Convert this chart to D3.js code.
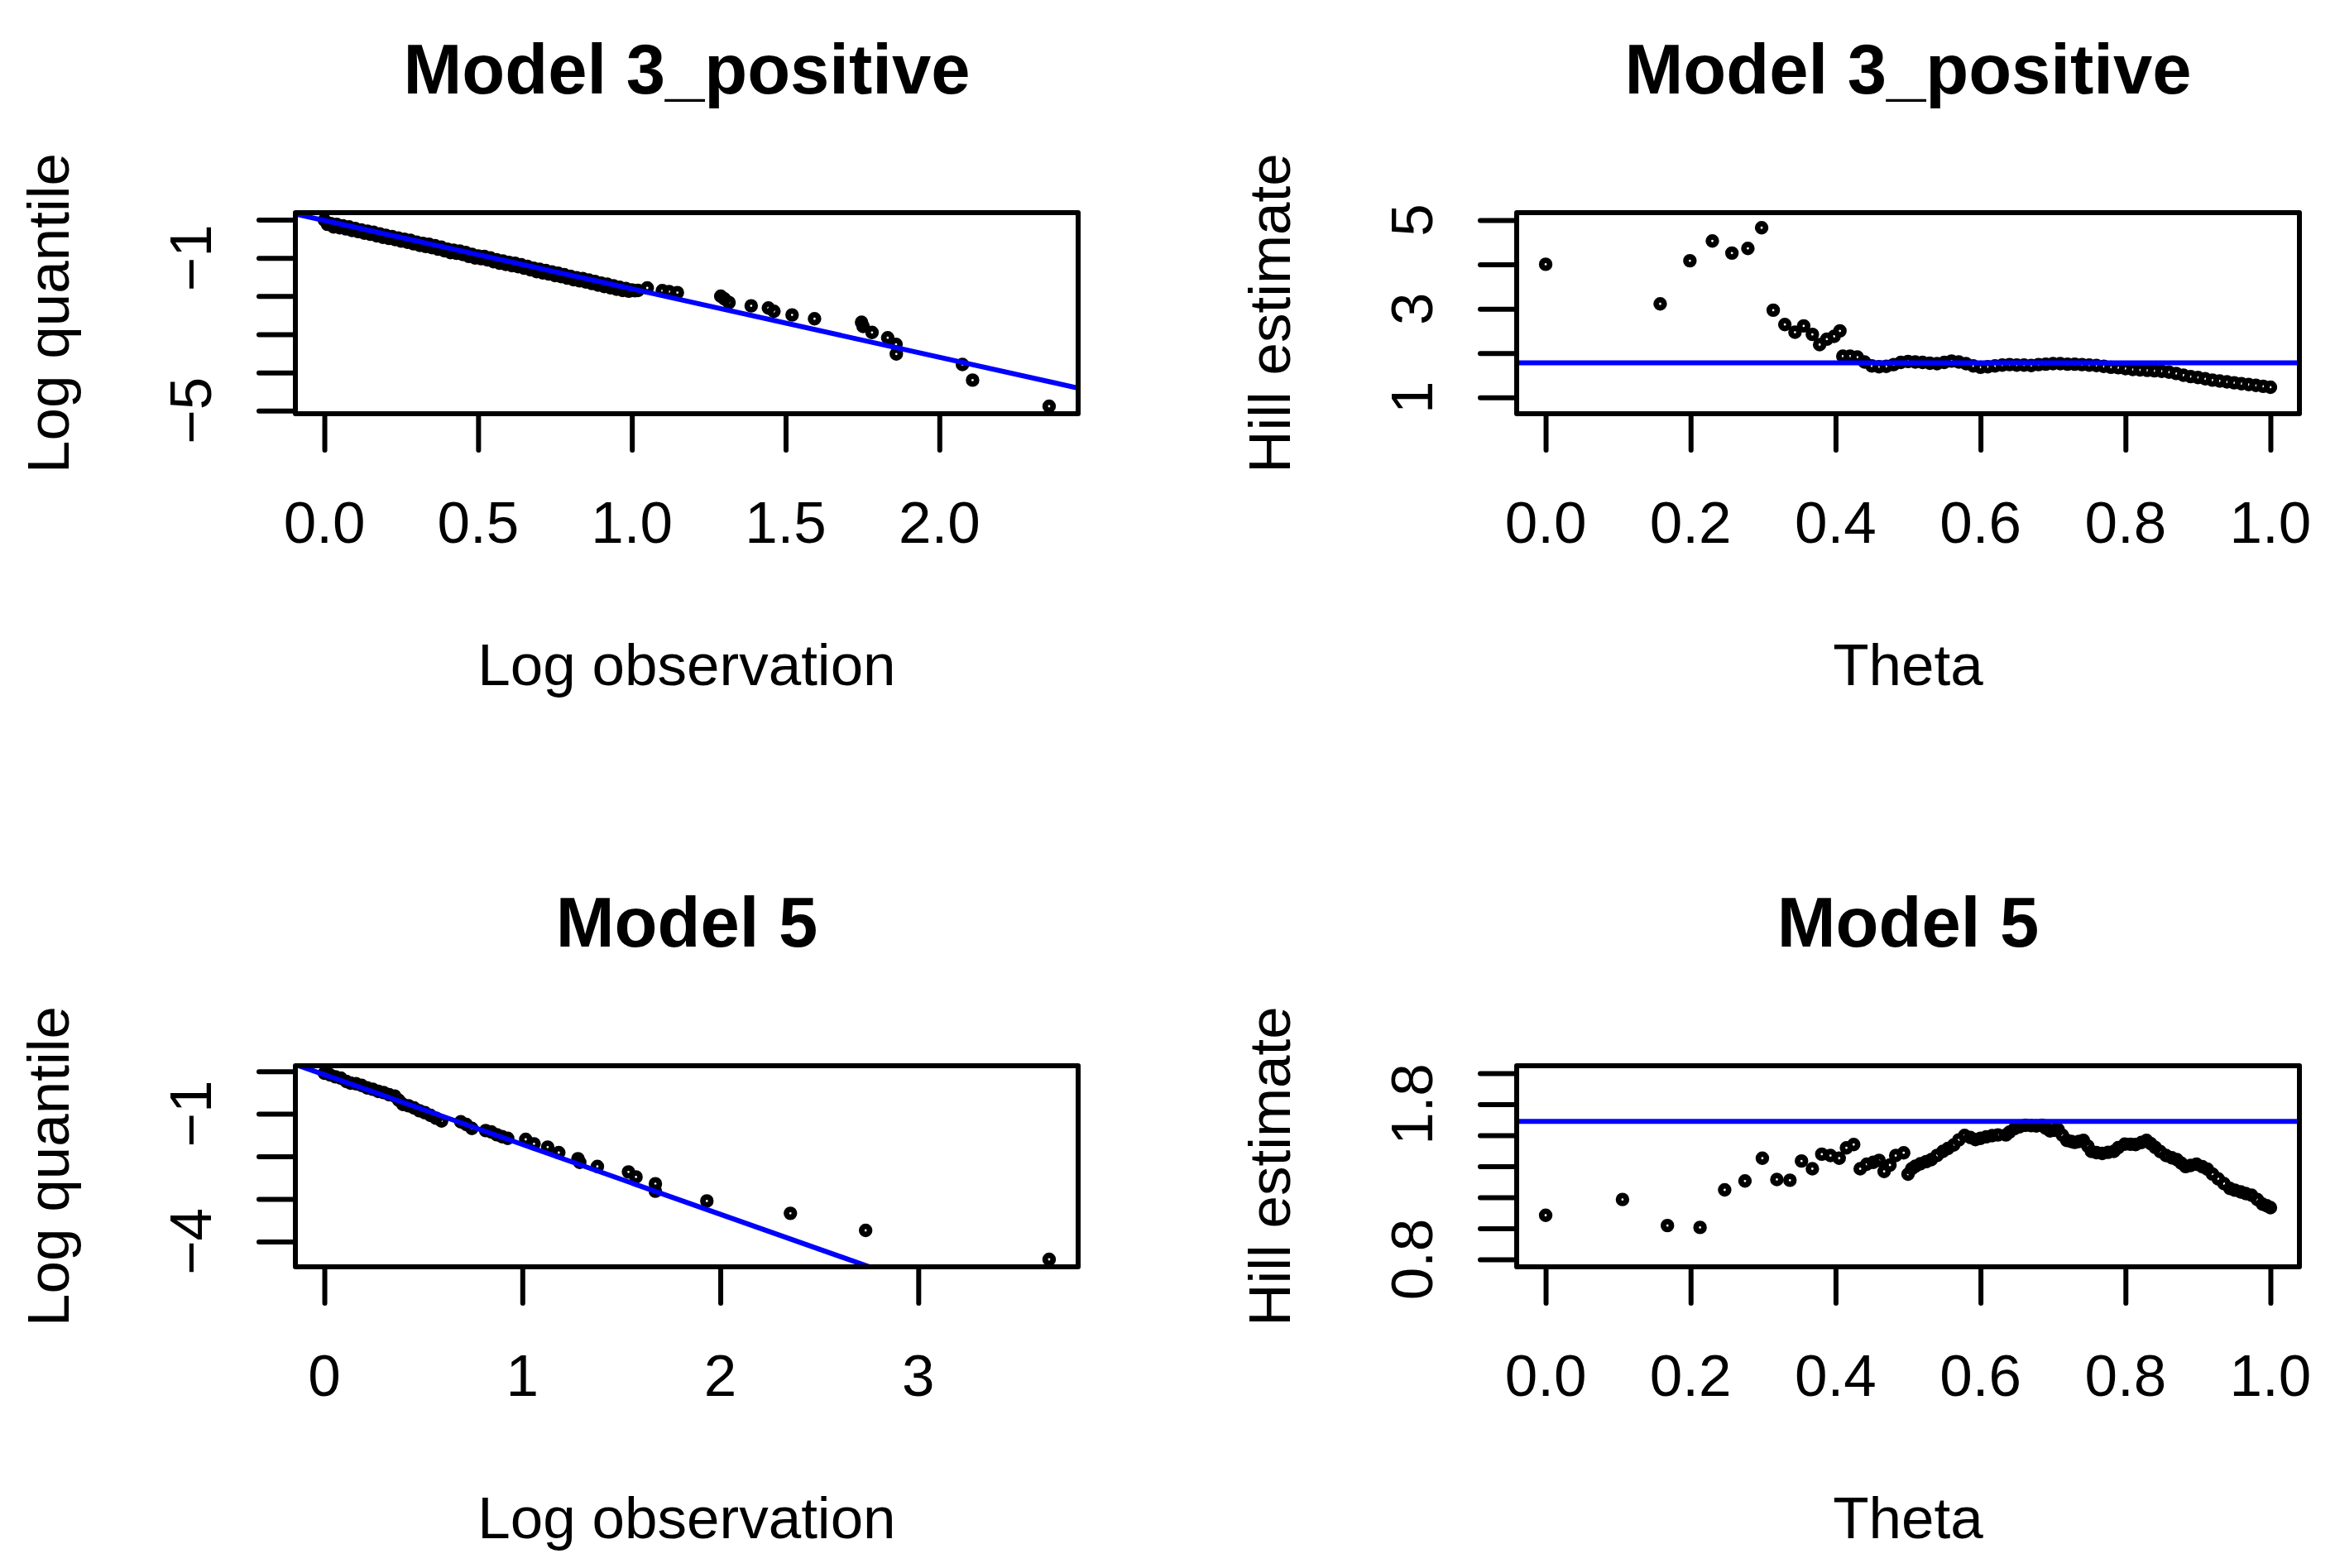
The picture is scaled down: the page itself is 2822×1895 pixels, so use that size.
<!DOCTYPE html>
<html>
<head>
<meta charset="utf-8">
<script src="https://cdn.jsdelivr.net/npm/d3@7/dist/d3.min.js"></script>
<style>
  html, body { margin: 0; padding: 0; background: #ffffff; }
  svg { display: block; }
  text { font-family: "Liberation Sans", Arial, Helvetica, sans-serif; fill: #000; }
</style>
</head>
<body>
<svg id="chart" width="2822" height="1895"></svg>
<script>
// ---------------- DATA ----------------
const panelTitles = ["Model 3_positive", "Model 3_positive", "Model 5", "Model 5"];
const qqXLabel = "Log observation", qqYLabel = "Log quantile";
const hillXLabel = "Theta", hillYLabel = "Hill estimate";

// Model 3_positive : QQ plot (log observation vs log quantile)
const qq3X = [0.00,0.01,0.02,0.03,0.04,0.05,0.06,0.07,0.08,0.09,0.10,0.11,0.12,0.13,0.14,0.15,0.16,0.17,0.18,0.19,
  0.20,0.21,0.22,0.23,0.24,0.25,0.26,0.27,0.28,0.29,0.30,0.31,0.32,0.33,0.34,0.35,0.36,0.37,0.38,0.39,
  0.40,0.41,0.42,0.43,0.44,0.45,0.46,0.47,0.48,0.49,0.50,0.51,0.52,0.53,0.54,0.55,0.56,0.57,0.58,0.59,
  0.60,0.61,0.62,0.63,0.64,0.65,0.66,0.67,0.68,0.69,0.70,0.71,0.72,0.73,0.74,0.75,0.76,0.77,0.78,0.79,
  0.80,0.81,0.82,0.83,0.84,0.85,0.86,0.87,0.88,0.89,0.90,0.91,0.92,0.93,0.94,0.95,0.96,0.97,0.98,0.99,
  1.00,1.01,1.02,
  1.050,1.099,1.121,1.148,1.289,1.301,1.316,1.388,1.444,1.462,1.521,1.594,1.747,1.752,1.781,1.832,1.859,1.860,2.075,2.108,2.357];
const qq3Y = [-0.01,-0.12,-0.10,-0.19,-0.12,-0.21,-0.16,-0.24,-0.19,-0.28,-0.23,-0.31,-0.27,-0.35,-0.30,-0.38,-0.33,-0.42,-0.37,-0.46,
  -0.41,-0.49,-0.44,-0.52,-0.48,-0.56,-0.51,-0.59,-0.54,-0.63,-0.59,-0.67,-0.62,-0.70,-0.64,-0.73,-0.68,-0.77,-0.72,-0.81,
  -0.77,-0.86,-0.80,-0.88,-0.82,-0.91,-0.86,-0.96,-0.91,-1.00,-0.95,-1.02,-0.96,-1.05,-1.00,-1.10,-1.05,-1.14,-1.08,-1.17,
  -1.12,-1.20,-1.14,-1.23,-1.18,-1.27,-1.22,-1.31,-1.27,-1.36,-1.30,-1.39,-1.33,-1.42,-1.37,-1.46,-1.40,-1.49,-1.44,-1.53,
  -1.48,-1.57,-1.52,-1.60,-1.54,-1.63,-1.58,-1.67,-1.62,-1.71,-1.66,-1.75,-1.69,-1.78,-1.73,-1.82,-1.77,-1.85,-1.80,-1.87,
  -1.84,-1.86,-1.85,
  -1.786,-1.858,-1.880,-1.908,-2.002,-2.074,-2.168,-2.254,-2.312,-2.398,-2.492,-2.593,-2.686,-2.794,-2.952,-3.090,-3.263,-3.515,-3.789,-4.199,-4.884];
const qq3Line = [-0.02, -1.79];          // intercept, slope
const qq3XTicks = [0, 0.5, 1, 1.5, 2];
const qq3XTickText = ["0.0", "0.5", "1.0", "1.5", "2.0"];
const qq3YTicks = [0, -1, -2, -3, -4, -5];
const qq3YLabelAt = [-1, -5];
const qq3YLabelText = ["\u22121", "\u22125"];

// Model 3_positive : Hill plot
const hill3Theta = [0.000,0.158,0.199,0.230,0.257,0.279,0.298,0.314,0.330,0.344,0.356,0.368,0.378,0.388,0.398,0.406,
  0.41,0.42,0.43,0.44,0.45,0.46,0.47,0.48,0.49,0.50,0.51,0.52,0.53,0.54,0.55,0.56,0.57,0.58,0.59,
  0.60,0.61,0.62,0.63,0.64,0.65,0.66,0.67,0.68,0.69,0.70,0.71,0.72,0.73,0.74,0.75,0.76,0.77,0.78,0.79,
  0.80,0.81,0.82,0.83,0.84,0.85,0.86,0.87,0.88,0.89,0.90,0.91,0.92,0.93,0.94,0.95,0.96,0.97,0.98,0.99,1.00];
const hill3Value = [4.003,3.110,4.083,4.529,4.256,4.362,4.827,2.967,2.644,2.470,2.613,2.421,2.191,2.315,2.377,2.501,
  1.93,1.93,1.91,1.80,1.71,1.69,1.70,1.74,1.79,1.81,1.80,1.79,1.77,1.76,1.79,1.82,1.80,1.76,1.71,
  1.68,1.69,1.71,1.73,1.74,1.73,1.73,1.72,1.74,1.75,1.76,1.76,1.75,1.75,1.74,1.73,1.72,1.70,1.68,1.67,
  1.65,1.63,1.62,1.61,1.60,1.59,1.57,1.54,1.50,1.47,1.45,1.42,1.39,1.37,1.35,1.33,1.31,1.29,1.27,1.25,1.23];
const hill3Level = 1.78;
const hill3YLim = [0.8, 5];
const thetaTicks = [0, 0.2, 0.4, 0.6, 0.8, 1.0];
const thetaTickText = ["0.0", "0.2", "0.4", "0.6", "0.8", "1.0"];
const hill3YTicks = [1, 2, 3, 4, 5];
const hill3YLabelAt = [1, 3, 5];
const hill3YLabelText = ["1", "3", "5"];

// Model 5 : QQ plot
const qq5X = [0.000,0.028,0.056,0.083,0.111,0.132,0.160,0.188,0.216,0.244,0.272,0.299,0.327,0.355,0.376,0.397,
  0.425,0.453,0.480,0.508,0.536,0.564,0.592,0.689,0.717,0.745,0.815,0.843,0.871,0.898,0.926,
  1.017,1.059,1.128,1.184,1.281,1.290,1.379,1.536,1.574,1.672,1.672,1.932,2.354,2.734,3.661];
const qq5Y = [-0.045,-0.084,-0.130,-0.162,-0.240,-0.279,-0.292,-0.331,-0.389,-0.421,-0.473,-0.499,-0.551,-0.583,-0.681,-0.778,
  -0.810,-0.862,-0.927,-0.972,-1.037,-1.102,-1.167,-1.186,-1.251,-1.342,-1.394,-1.426,-1.491,-1.536,-1.575,
  -1.601,-1.705,-1.782,-1.912,-2.055,-2.139,-2.236,-2.366,-2.483,-2.644,-2.819,-3.047,-3.338,-3.739,-4.420];
const qq5Line = [-0.08, -1.64];
const qq5XTicks = [0, 1, 2, 3];
const qq5XTickText = ["0", "1", "2", "3"];
const qq5YTicks = [0, -1, -2, -3, -4];
const qq5YLabelAt = [-1, -4];
const qq5YLabelText = ["\u22121", "\u22124"];

// Model 5 : Hill plot
const hill5Theta = [0.000,0.106,0.168,0.213,0.247,0.275,0.299,0.319,0.337,0.353,0.368,0.381,0.393,0.405,0.415,0.425,
  0.434,0.443,0.452,0.460,0.467,0.475,0.483,0.494,0.500,
  0.505,0.510,0.517,0.525,0.532,0.540,0.548,0.555,0.563,0.570,0.578,0.586,0.593,0.600,0.608,0.616,0.624,0.635,
  0.640,0.647,0.654,0.662,0.670,0.677,0.685,0.690,0.696,0.702,0.707,0.713,0.719,0.725,0.730,0.736,0.742,0.748,
  0.753,0.760,0.768,0.776,0.784,0.790,0.799,0.807,0.814,0.822,0.829,0.835,0.841,0.848,0.856,0.864,0.871,0.877,
  0.883,0.890,0.898,0.906,0.913,0.920,0.928,0.936,0.944,0.951,0.959,0.966,0.974,0.982,0.989,0.995,1.000];
const hill5Value = [1.084,1.186,1.018,1.006,1.248,1.305,1.452,1.315,1.310,1.434,1.384,1.478,1.469,1.452,1.519,1.540,
  1.384,1.413,1.425,1.438,1.367,1.408,1.469,1.487,1.349,
  1.384,1.400,1.416,1.430,1.443,1.470,1.496,1.515,1.537,1.570,1.599,1.585,1.572,1.580,1.590,1.597,1.602,1.602,
  1.620,1.643,1.655,1.664,1.662,1.660,1.664,1.645,1.628,1.632,1.637,1.600,1.567,1.560,1.554,1.560,1.567,1.530,
  1.496,1.488,1.483,1.490,1.496,1.520,1.543,1.542,1.540,1.553,1.567,1.545,1.522,1.495,1.469,1.455,1.443,1.420,
  1.398,1.405,1.413,1.397,1.381,1.350,1.319,1.288,1.257,1.246,1.235,1.224,1.213,1.185,1.156,1.145,1.133];
const hill5Level = 1.69;
const hill5YLim = [0.8, 2.0];
const hill5YTicks = [0.8, 1.0, 1.2, 1.4, 1.6, 1.8, 2.0];
const hill5YLabelAt = [0.8, 1.8];
const hill5YLabelText = ["0.8", "1.8"];

// ---------------- LAYOUT ----------------
const colLeft = [357, 1833], plotW = 946;
const rowTop = [257, 1288], plotH = 243;
const LW = 6;

const svg = d3.select("#chart");

function padded(ext) {
  const r = ext[1] - ext[0];
  return [ext[0] - 0.04 * r, ext[1] + 0.04 * r];
}

function drawPanel(idx, cfg) {
  const left = colLeft[idx % 2], top = rowTop[Math.floor(idx / 2)];
  const right = left + plotW, bottom = top + plotH;
  const x = d3.scaleLinear().domain(cfg.xDomain).range([left, right]);
  const y = d3.scaleLinear().domain(cfg.yDomain).range([bottom, top]);
  const g = svg.append("g");

  const clipId = "clip" + idx;
  svg.append("clipPath").attr("id", clipId)
    .append("rect").attr("x", left).attr("y", top).attr("width", plotW).attr("height", plotH);

  // points (pch = 1)
  g.append("g").selectAll("circle").data(d3.range(cfg.xs.length)).join("circle")
    .attr("cx", i => x(cfg.xs[i])).attr("cy", i => y(cfg.ys[i]))
    .attr("r", 4.8).attr("fill", "none").attr("stroke", "#000").attr("stroke-width", 6.8);

  // reference line (abline)
  const xd = x.domain();
  const linePts = cfg.line.h !== undefined
    ? [[xd[0], cfg.line.h], [xd[1], cfg.line.h]]
    : [[xd[0], cfg.line.a + cfg.line.b * xd[0]], [xd[1], cfg.line.a + cfg.line.b * xd[1]]];
  g.append("path").datum(linePts)
    .attr("clip-path", `url(#${clipId})`)
    .attr("d", d3.line().x(d => x(d[0])).y(d => y(d[1])))
    .attr("fill", "none").attr("stroke", "#0000FF").attr("stroke-width", LW);

  // box
  g.append("rect").attr("x", left).attr("y", top).attr("width", plotW).attr("height", plotH)
    .attr("fill", "none").attr("stroke", "#000").attr("stroke-width", LW).attr("stroke-linejoin", "round");

  // axes ticks
  const ax = g.append("g").attr("transform", `translate(0,${bottom})`)
    .call(d3.axisBottom(x).tickValues(cfg.xTicks).tickSize(44).tickSizeOuter(0).tickFormat(""));
  const ay = g.append("g").attr("transform", `translate(${left},0)`)
    .call(d3.axisLeft(y).tickValues(cfg.yTicks).tickSize(44).tickSizeOuter(0).tickFormat(""));
  [ax, ay].forEach(a => {
    a.select(".domain").remove();
    a.selectAll(".tick line").attr("stroke", "#000").attr("stroke-width", LW).attr("stroke-linecap", "round");
    a.selectAll(".tick text").remove();
  });

  // x tick labels
  g.append("g").selectAll("text").data(cfg.xTicks).join("text")
    .attr("x", d => x(d)).attr("y", bottom + 156)
    .attr("text-anchor", "middle").attr("font-size", 71)
    .text((d, i) => cfg.xTickText[i]);

  // y tick labels (rotated, parallel to axis)
  g.append("g").selectAll("text").data(cfg.yLabelAt).join("text")
    .attr("transform", d => `translate(${left - 102},${y(d)}) rotate(-90)`)
    .attr("text-anchor", "middle").attr("font-size", 71)
    .text((d, i) => cfg.yLabelText[i]);

  // titles
  g.append("text").attr("x", (left + right) / 2).attr("y", top - 144)
    .attr("text-anchor", "middle").attr("font-size", 85).attr("font-weight", "bold")
    .text(cfg.title);
  g.append("text").attr("x", (left + right) / 2).attr("y", bottom + 328)
    .attr("text-anchor", "middle").attr("font-size", 71).text(cfg.xLabel);
  g.append("text").attr("transform", `translate(${left - 274},${(top + bottom) / 2}) rotate(-90)`)
    .attr("text-anchor", "middle").attr("font-size", 71).text(cfg.yLabel);
}

drawPanel(0, {
  xs: qq3X, ys: qq3Y, xDomain: padded(d3.extent(qq3X)), yDomain: padded(d3.extent(qq3Y)),
  line: { a: qq3Line[0], b: qq3Line[1] },
  xTicks: qq3XTicks, xTickText: qq3XTickText, yTicks: qq3YTicks, yLabelAt: qq3YLabelAt, yLabelText: qq3YLabelText,
  title: panelTitles[0], xLabel: qqXLabel, yLabel: qqYLabel
});
drawPanel(1, {
  xs: hill3Theta, ys: hill3Value, xDomain: padded([0, 1]), yDomain: padded(hill3YLim),
  line: { h: hill3Level },
  xTicks: thetaTicks, xTickText: thetaTickText, yTicks: hill3YTicks, yLabelAt: hill3YLabelAt, yLabelText: hill3YLabelText,
  title: panelTitles[1], xLabel: hillXLabel, yLabel: hillYLabel
});
drawPanel(2, {
  xs: qq5X, ys: qq5Y, xDomain: padded(d3.extent(qq5X)), yDomain: padded(d3.extent(qq5Y)),
  line: { a: qq5Line[0], b: qq5Line[1] },
  xTicks: qq5XTicks, xTickText: qq5XTickText, yTicks: qq5YTicks, yLabelAt: qq5YLabelAt, yLabelText: qq5YLabelText,
  title: panelTitles[2], xLabel: qqXLabel, yLabel: qqYLabel
});
drawPanel(3, {
  xs: hill5Theta, ys: hill5Value, xDomain: padded([0, 1]), yDomain: padded(hill5YLim),
  line: { h: hill5Level },
  xTicks: thetaTicks, xTickText: thetaTickText, yTicks: hill5YTicks, yLabelAt: hill5YLabelAt, yLabelText: hill5YLabelText,
  title: panelTitles[3], xLabel: hillXLabel, yLabel: hillYLabel
});
</script>
</body>
</html>
